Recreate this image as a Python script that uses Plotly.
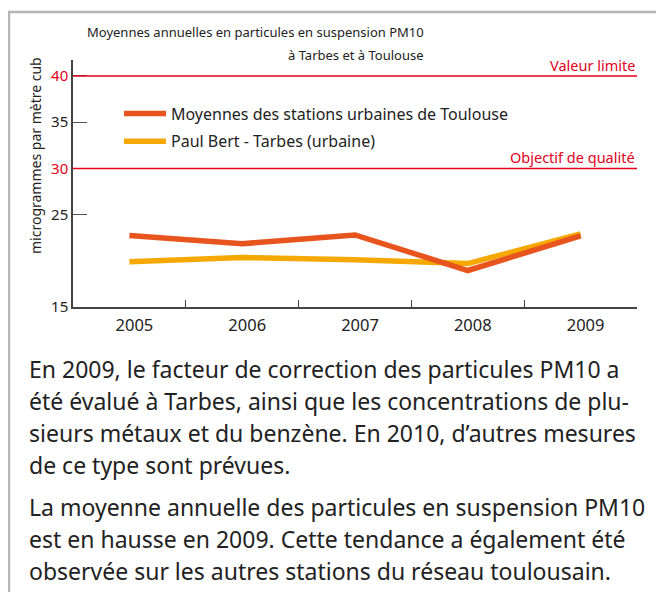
import plotly.graph_objects as go

annees = ["2005", "2006", "2007", "2008", "2009"]
toulouse = [22.75, 21.85, 22.8, 18.95, 22.7]
tarbes = [19.9, 20.35, 20.1, 19.7, 22.9]
valeur_limite = 40
objectif_qualite = 30
y_ticks = [15, 25, 30, 35, 40]

titre = ["Moyennes annuelles en particules en suspension PM10", "à Tarbes et à Toulouse"]
titre_y = [32, 55]

texte = [
    "En 2009, le facteur de correction des particules PM10 a",
    "été évalué à Tarbes, ainsi que les concentrations de plu-",
    "sieurs métaux et du benzène. En 2010, d’autres mesures",
    "de ce type sont prévues.",
    "La moyenne annuelle des particules en suspension PM10",
    "est en hausse en 2009. Cette tendance a également été",
    "observée sur les autres stations du réseau toulousain.",
]
texte_y = [369, 401, 433, 465, 507, 539, 571]

# the page puts an 8px margin round the figure; coordinates below are page pixels
OFF = 8
W, H = 664 - OFF, 592 - OFF
L, R, T, B = 73, 637, 60, 307  # plot area, page pixels
FONT = "'Noto Sans', sans-serif"
ROUGE = "#e2001a"
GRIS = "#222222"


def px(x):
    return (x - L) / (R - L)


def py(y):
    return (B - y) / (B - T)


fig = go.Figure()
fig.add_trace(go.Scatter(x=annees, y=tarbes, mode="lines",
                         name="Paul Bert - Tarbes (urbaine)", legendrank=2,
                         line=dict(color="#f5a800", width=5.5), legendgroup="b"))
fig.add_trace(go.Scatter(x=annees, y=toulouse, mode="lines",
                         name="Moyennes des stations urbaines de Toulouse", legendrank=1,
                         line=dict(color="#e8541e", width=5.5), legendgroup="a"))

for val, lab in [(valeur_limite, "Valeur limite"), (objectif_qualite, "Objectif de qualité")]:
    fig.add_shape(type="line", xref="paper", yref="y", x0=0, x1=1, y0=val, y1=val,
                  line=dict(color=ROUGE, width=1.5))
    fig.add_annotation(xref="paper", yref="y", x=1, y=val, text=lab, showarrow=False,
                       xanchor="right", yanchor="bottom", yshift=-1,
                       font=dict(family=FONT, size=14.5, color=ROUGE))

ticktext = [f"<span style='color:{ROUGE}'>{v}</span>" if v in (valeur_limite, objectif_qualite)
            else str(v) for v in y_ticks]

for ligne, yy in zip(titre, titre_y):
    fig.add_annotation(xref="paper", yref="paper", x=px(426), y=py(yy), text=ligne,
                       showarrow=False, xanchor="right", yanchor="middle",
                       font=dict(family=FONT, size=13, color=GRIS))

fig.add_annotation(xref="paper", yref="paper", x=px(35), y=py(156),
                   text="microgrammes par mètre cub", textangle=-90, showarrow=False,
                   xanchor="center", yanchor="middle",
                   font=dict(family=FONT, size=14, color=GRIS))

for ligne, yy in zip(texte, texte_y):
    fig.add_annotation(xref="paper", yref="paper", x=px(27), y=py(yy), text=ligne,
                       showarrow=False, xanchor="left", yanchor="middle",
                       font=dict(family=FONT, size=23, color=GRIS))

# cadre gris
fig.add_shape(type="line", xref="paper", yref="paper", x0=px(8), x1=px(664), y0=py(12), y1=py(12),
              line=dict(color="#b5b5b5", width=2.5))
fig.add_shape(type="line", xref="paper", yref="paper", x0=px(9), x1=px(9), y0=py(12), y1=py(592),
              line=dict(color="#b5b5b5", width=2.5))

fig.update_layout(
    width=W, height=H,
    margin=dict(l=L - OFF, r=664 - R, t=T - OFF, b=592 - B),
    paper_bgcolor="white", plot_bgcolor="white",
    font=dict(family=FONT, color=GRIS),
    showlegend=True,
    legend=dict(x=px(119), y=py(96.5), xanchor="left", yanchor="top",
                font=dict(family=FONT, size=16, color=GRIS), bgcolor="rgba(0,0,0,0)",
                traceorder="grouped", tracegroupgap=4, itemwidth=42),
)
fig.update_xaxes(type="category", range=[-0.5, 4.5], showline=True, linecolor="#444", linewidth=1.5,
                 ticks="inside", tickson="boundaries", ticklen=7, tickcolor="#444",
                 ticklabelstandoff=2, ticklabelshift=5,
                 showgrid=False, zeroline=False, tickfont=dict(size=16.5, color=GRIS))
fig.update_yaxes(range=[15, 41.73], showline=True, linecolor="#444", linewidth=1.5,
                 ticks="inside", ticklen=14, tickcolor="#555", tickvals=y_ticks, ticktext=ticktext,
                 showgrid=False, zeroline=False, tickfont=dict(size=15, color=GRIS))

fig.write_html("out.html")
